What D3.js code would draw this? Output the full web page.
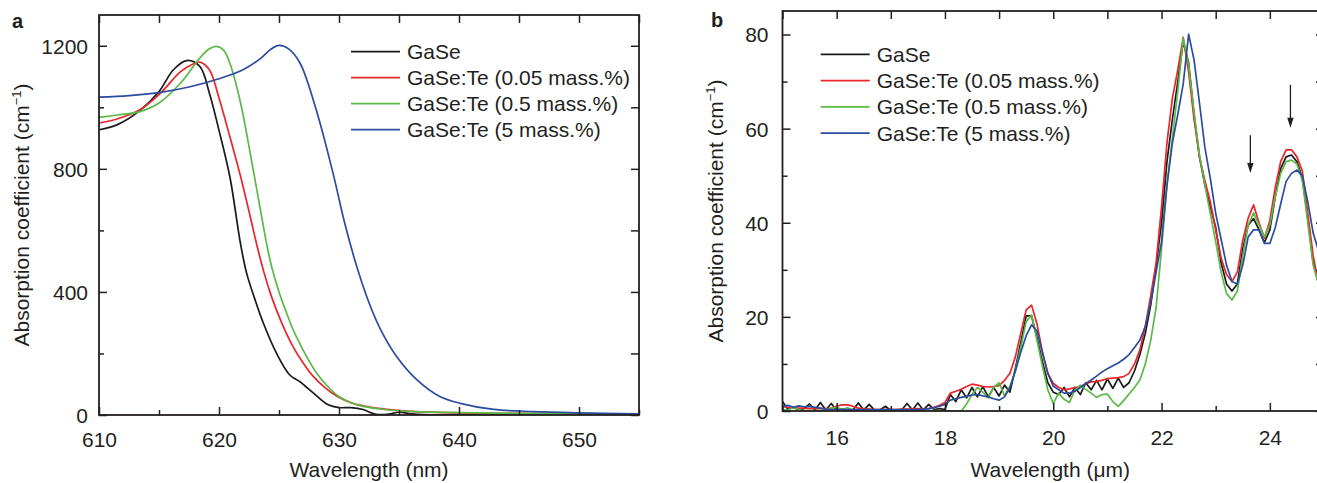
<!DOCTYPE html>
<html>
<head>
<meta charset="utf-8">
<script src="https://cdn.jsdelivr.net/npm/d3@7"></script>
<style>
body { margin: 0; background: #fff; }
svg text { font-family: "Liberation Sans", Arial, Helvetica, sans-serif; fill: #231f20; }
.frame { fill: none; stroke: #231f20; stroke-width: 1.8; }
.tick line { stroke: #231f20; stroke-width: 1.5; }
</style>
</head>
<body>
<svg id="chart" width="1317" height="483"></svg>
<script>
var seriesNames = ['GaSe', 'GaSe:Te (0.05 mass.%)', 'GaSe:Te (0.5 mass.%)', 'GaSe:Te (5 mass.%)']
var seriesColors = ['#1a1a1a', '#e8262b', '#5bb947', '#2b4c9e']

// panel a - visible absorption edge (nm, cm-1)
var aWaveBlack = [610, 611.5, 613.4, 615, 616.2, 617.3, 618.4, 619.2, 620, 620.9, 621.8, 622.3, 623, 623.7, 624.8, 625.9, 626.75, 627.9, 629.1, 630, 631, 632, 633, 634, 635, 636, 637, 640, 645, 650, 655]
var aBlack = [927, 943, 989, 1051, 1122, 1152, 1133, 1046, 925, 775, 555, 461, 375, 298, 200, 130, 108, 70, 33, 24, 24, 18, 3, 2, 9, 4, 1, 1, 1, 1, 1]

var aWaveRed = [610, 611.5, 613.4, 615, 616.8, 617.8, 618.4, 619.2, 620, 620.9, 621.8, 622.6, 623.2, 623.7, 624.2, 624.8, 625.5, 626.2, 627, 627.8, 628.8, 629.8, 631, 632, 634, 636, 640, 645, 650, 655]
var aRed = [949, 962, 992, 1041, 1116, 1140, 1147, 1122, 1030, 905, 775, 645, 545, 470, 405, 340, 275, 220, 170, 128, 90, 62, 40, 30, 18, 12, 7, 5, 3, 2]

var aWaveGreen = [610, 611.5, 613.4, 615, 616.8, 618.4, 619.2, 619.8, 620.4, 620.9, 621.8, 622.6, 623.5, 624, 624.4, 625, 625.6, 626.2, 626.75, 627.3, 628.1, 629.1, 630, 631, 632, 634, 636, 640, 645, 650, 655]
var aGreen = [967, 975, 986, 1014, 1079, 1160, 1190, 1198, 1185, 1144, 1014, 851, 656, 550, 480, 400, 335, 275, 231, 190, 138, 91, 60, 40, 28, 17, 12, 8, 5, 4, 3]

var aWaveBlue = [610, 612.5, 615, 617.5, 620, 622, 623.5, 624.3, 625, 625.8, 626.75, 628.1, 629.5, 630.5, 631.5, 632.5, 633.5, 634.8, 636.5, 638.4, 640.1, 642.9, 646.2, 650, 655]
var aBlue = [1033, 1038, 1048, 1066, 1093, 1122, 1160, 1188, 1201, 1190, 1144, 992, 786, 620, 480, 365, 275, 190, 114, 60, 38, 18, 11, 7, 4]

// panel b - mid IR (um, cm-1), one point every 0.1 um
var bWave = [15.0, 15.1, 15.2, 15.3, 15.4, 15.5, 15.6, 15.7, 15.8, 15.9,
    16.0, 16.1, 16.2, 16.3, 16.4, 16.5, 16.6, 16.7, 16.8, 16.9,
    17.0, 17.1, 17.2, 17.3, 17.4, 17.5, 17.6, 17.7, 17.8, 17.9,
    18.0, 18.1, 18.2, 18.3, 18.4, 18.5, 18.6, 18.7, 18.8, 18.9,
    19.0, 19.1, 19.2, 19.3, 19.4, 19.5, 19.6, 19.7, 19.8, 19.9,
    20.0, 20.1, 20.2, 20.3, 20.4, 20.5, 20.6, 20.7, 20.8, 20.9,
    21.0, 21.1, 21.2, 21.3, 21.4, 21.5, 21.6, 21.7, 21.8, 21.9,
    22.0, 22.1, 22.2, 22.3, 22.4, 22.5, 22.6, 22.7, 22.8, 22.9,
    23.0, 23.1, 23.2, 23.3, 23.4, 23.5, 23.6, 23.7, 23.8, 23.9,
    24.0, 24.1, 24.2, 24.3, 24.4, 24.5, 24.6, 24.7, 24.8, 24.9, 25.0]
var bBlack = [2.0, 0.3, 0.8, 0.2, 0.5, 1.5, 0.2, 1.8, 0.2, 1.6,
    0.2, 0.4, 0.3, 0.2, 1.7, 0.2, 1.4, 0.2, 0.2, 1.0,
    0.1, 0.1, 0.2, 1.6, 0.2, 1.7, 0.2, 1.4, 0.3, 0.5,
    0.3, 3.5, 2.0, 4.5, 2.8, 5.0, 3.0, 5.2, 3.0, 5.0,
    3.2, 5.5, 4.0, 9.0, 14.5, 20.2, 20.2, 15.5, 10.5, 6.0,
    4.0, 3.5, 5.0, 3.0, 5.0, 3.5, 6.0, 4.5, 6.5, 4.5,
    6.8, 4.8, 7.0, 5.0, 6.0, 8.5, 12.0, 16.5, 22.5, 31.0,
    40.0, 53.0, 62.0, 70.0, 78.5, 74.0, 63.0, 54.0, 48.0, 43.5,
    39.0, 31.5, 27.0, 25.5, 27.0, 34.5, 39.5, 40.9, 38.5, 35.8,
    38.5, 45.5, 51.5, 54.0, 54.4, 53.0, 49.5, 41.0, 31.5, 27.0, 22.0]
var bRed = [0.9, 0.8, 0.7, 0.6, 0.6, 0.5, 0.5, 0.5, 0.5, 0.6,
    1.0, 1.3, 1.3, 1.0, 0.6, 0.5, 0.4, 0.3, 0.3, 0.3,
    0.3, 0.3, 0.4, 0.4, 0.4, 0.5, 0.4, 0.5, 0.8, 1.2,
    1.8, 3.8, 4.2, 4.6, 5.2, 5.7, 5.5, 5.2, 5.1, 5.2,
    5.4, 6.5, 8.0, 11.5, 16.5, 21.5, 22.5, 18.5, 12.5, 8.0,
    5.9, 5.0, 4.5, 4.7, 5.0, 5.2, 5.8, 6.2, 6.3, 6.5,
    6.9, 7.0, 7.1, 7.3, 8.0, 10.0, 13.0, 18.0, 24.5, 31.5,
    43.4, 57.0, 66.5, 72.5, 79.4, 72.0, 62.0, 54.0, 49.0, 44.5,
    38.5, 32.5, 29.0, 27.5, 29.5, 36.3, 41.0, 43.8, 40.0, 36.7,
    40.5, 47.5, 53.0, 55.5, 55.5, 54.0, 51.0, 42.0, 33.0, 27.0, 22.0]
var bGreen = [0.3, 0.2, 0.8, 0.3, 0.1, 0.1, 0.1, 0.1, 0.2, 0.6,
    0.8, 0.3, 0.7, 0.2, 0.1, 0.1, 0.1, 0.1, 0.1, 0.1,
    0.1, 0.1, 0.1, 0.1, 0.1, 0.1, 0.1, 0.1, 0.1, 0.1,
    0.0, 0.0, 0.0, 0.0, 1.5, 3.5, 5.0, 4.0, 2.8, 5.0,
    6.0, 3.2, 5.2, 8.5, 13.5, 19.0, 20.4, 15.0, 9.5, 4.5,
    1.6, 3.8, 2.5, 1.8, 4.5, 5.5, 4.6, 3.8, 2.9, 3.5,
    3.6, 2.0, 1.0, 2.2, 3.6, 5.0, 6.6, 10.0, 15.0, 22.0,
    34.5, 48.0, 58.0, 68.0, 79.2, 73.5, 63.5, 54.5, 48.0, 42.0,
    36.0, 29.5, 25.0, 23.6, 25.5, 33.0, 39.5, 42.1, 39.5, 37.0,
    39.5, 45.5, 50.5, 53.0, 53.3, 52.5, 49.0, 40.0, 31.0, 27.0, 22.0]
var bBlue = [1.0, 1.2, 0.8, 1.1, 0.9, 1.0, 0.8, 0.6, 0.4, 0.3,
    0.3, 0.3, 0.3, 0.3, 0.3, 0.3, 0.3, 0.3, 0.3, 0.3,
    0.3, 0.3, 0.3, 0.3, 0.3, 0.3, 0.4, 0.5, 0.7, 1.0,
    1.4, 2.3, 2.6, 2.9, 3.1, 3.4, 3.5, 3.2, 3.0, 2.6,
    2.3, 3.0, 5.0, 8.5, 12.5, 16.0, 18.3, 17.0, 12.5, 8.0,
    5.3, 4.5, 3.8, 3.8, 4.2, 5.0, 5.8, 6.6, 7.4, 8.3,
    9.0, 9.6, 10.2, 11.0, 12.0, 13.5, 15.1, 18.0, 23.0, 29.5,
    36.0, 48.0, 57.0, 63.0, 69.5, 80.1, 74.6, 65.5, 56.0, 49.5,
    42.0, 36.5, 31.0, 27.5, 27.0, 31.0, 37.0, 38.5, 38.5, 35.6,
    35.6, 39.0, 44.0, 48.8, 50.5, 51.2, 50.0, 44.5, 37.8, 34.0, 30.0]

// arrows marking the Te related bands
var arrowWave = [23.64, 24.38]
var arrowFrom = [58.6, 69.3]
var arrowTo = [50.6, 60.2]

var svg = d3.select('#chart')

drawPanel({
    id: 'a', left: 99, top: 15, width: 540, height: 400,
    xDomain: [610, 655], yDomain: [0, 1300],
    xMajor: [610, 620, 630, 640, 650], xMinor: [615, 625, 635, 645, 655],
    yMajor: [0, 400, 800, 1200], yMinor: [200, 600, 1000],
    xLabel: 'Wavelength (nm)', yLabelX: 22, letterX: 12, letterY: 28,
    xTickBase: 447, yTickGap: 11,
    series: [[aWaveBlack, aBlack], [aWaveRed, aRed], [aWaveGreen, aGreen], [aWaveBlue, aBlue]],
    curve: d3.curveCatmullRom.alpha(0.5),
    legend: {x: 351, y: 51.7, dy: 26}
})

drawPanel({
    id: 'b', left: 782.5, top: 11, width: 541.5, height: 400,
    xDomain: [15, 25], yDomain: [0, 85],
    xMajor: [16, 18, 20, 22, 24], xMinor: [15, 17, 19, 21, 23, 25],
    yMajor: [0, 20, 40, 60, 80], yMinor: [10, 30, 50, 70],
    xLabel: 'Wavelength (\u03bcm)', yLabelX: 716, letterX: 711, letterY: 27,
    xTickBase: 445, yTickGap: 14,
    series: [[bWave, bBlack], [bWave, bRed], [bWave, bGreen], [bWave, bBlue]],
    curve: d3.curveLinear,
    legend: {x: 820.7, y: 54.3, dy: 26.3},
    arrows: true
})

function drawPanel(p) {
    var x = d3.scaleLinear().domain(p.xDomain).range([0, p.width])
    var y = d3.scaleLinear().domain(p.yDomain).range([p.height, 0])

    var g = svg.append('g').attr('transform', 'translate(' + p.left + ',' + p.top + ')')

    g.append('clipPath').attr('id', 'clip-' + p.id)
        .append('rect').attr('width', p.width).attr('height', p.height)

    // data lines
    var lines = g.append('g').attr('clip-path', 'url(#clip-' + p.id + ')')
    p.series.forEach(function (s, i) {
        var pts = s[0].map(function (w, k) { return [w, s[1][k]] })
        var line = d3.line()
            .x(function (d) { return x(d[0]) })
            .y(function (d) { return y(d[1]) })
            .curve(p.curve)
        lines.append('path')
            .datum(pts)
            .attr('d', line)
            .attr('fill', 'none')
            .attr('stroke', seriesColors[i])
            .attr('stroke-width', 1.7)
            .attr('stroke-linejoin', 'round')
    })

    if (p.arrows) {
        arrowWave.forEach(function (w, i) {
            var ax = x(w), y0 = y(arrowFrom[i]), y1 = y(arrowTo[i])
            g.append('line')
                .attr('x1', ax).attr('x2', ax)
                .attr('y1', y0).attr('y2', y1 - 6)
                .attr('stroke', '#231f20').attr('stroke-width', 1.3)
            g.append('path')
                .attr('d', 'M' + (ax - 3.2) + ',' + (y1 - 10) + 'L' + (ax + 3.2) + ',' + (y1 - 10) + 'L' + ax + ',' + y1 + 'Z')
                .attr('fill', '#231f20')
        })
    }

    // ticks, all pointing inwards
    var fmt = d3.format('d')
    var ax
    ax = g.append('g').attr('transform', 'translate(0,' + p.height + ')')
        .call(d3.axisBottom(x).tickValues(p.xMajor).tickFormat(fmt).tickSizeInner(-8).tickSizeOuter(0).tickPadding(17))
    ax.select('.domain').remove()
    ax.selectAll('text').attr('font-size', 21).attr('fill', '#231f20').attr('y', p.xTickBase - p.top - p.height).attr('dy', 0)

    ax = g.append('g').attr('transform', 'translate(0,' + p.height + ')')
        .call(d3.axisBottom(x).tickValues(p.xMinor).tickSizeInner(-5).tickSizeOuter(0).tickFormat(''))
    ax.select('.domain').remove()

    ax = g.append('g')
        .call(d3.axisLeft(y).tickValues(p.yMajor).tickFormat(fmt).tickSizeInner(-8).tickSizeOuter(0).tickPadding(p.yTickGap))
    ax.select('.domain').remove()
    ax.selectAll('text').attr('font-size', 21).attr('fill', '#231f20').attr('dy', '0.35em')

    ax = g.append('g')
        .call(d3.axisLeft(y).tickValues(p.yMinor).tickSizeInner(-5).tickSizeOuter(0).tickFormat(''))
    ax.select('.domain').remove()

    ax = g.append('g')
        .call(d3.axisTop(x).tickValues(p.xMajor.concat(p.xMinor)).tickSizeInner(-8).tickSizeOuter(0).tickFormat(''))
    ax.select('.domain').remove()

    ax = g.append('g').attr('transform', 'translate(' + p.width + ',0)')
        .call(d3.axisRight(y).tickValues(p.yMajor.concat(p.yMinor)).tickSizeInner(-8).tickSizeOuter(0).tickFormat(''))
    ax.select('.domain').remove()

    g.append('rect').attr('class', 'frame')
        .attr('width', p.width).attr('height', p.height)

    // axis titles
    svg.append('text')
        .attr('x', p.left + p.width / 2 - (p.id == 'b' ? 3 : 0)).attr('y', 477)
        .attr('text-anchor', 'middle').attr('font-size', 21)
        .text(p.xLabel)

    var yl = svg.append('text')
        .attr('transform', 'translate(' + p.yLabelX + ',' + (p.top + p.height / 2) + ') rotate(-90)')
        .attr('text-anchor', 'middle').attr('font-size', 21).attr('dy', '0.35em')
    yl.append('tspan').text('Absorption coefficient (cm')
    yl.append('tspan').attr('font-size', 13).attr('dy', -8).text('\u22121')
    yl.append('tspan').attr('dy', 8).text(')')

    svg.append('text')
        .attr('x', p.letterX).attr('y', p.letterY)
        .attr('font-size', 20).attr('font-weight', 'bold')
        .text(p.id)

    // legend
    var leg = svg.append('g')
    seriesNames.forEach(function (name, i) {
        var ly = p.legend.y + i * p.legend.dy
        leg.append('line')
            .attr('x1', p.legend.x).attr('x2', p.legend.x + 49)
            .attr('y1', ly).attr('y2', ly)
            .attr('stroke', seriesColors[i]).attr('stroke-width', 1.7)
        leg.append('text')
            .attr('x', p.legend.x + 56).attr('y', ly + 7.5)
            .attr('font-size', 21)
            .text(name)
    })
}
</script>
</body>
</html>
